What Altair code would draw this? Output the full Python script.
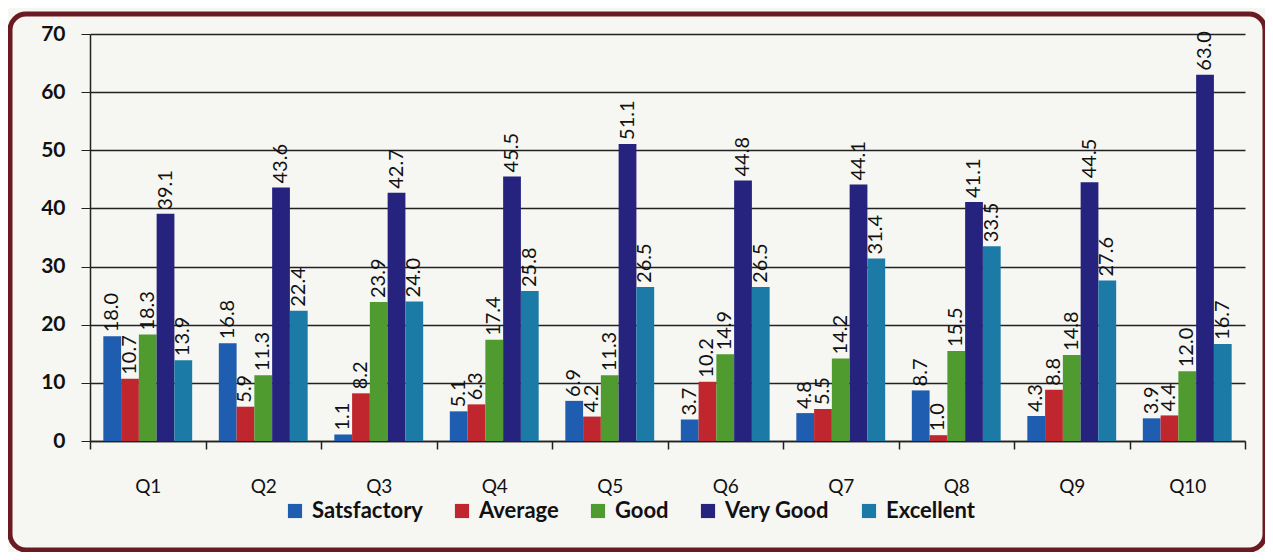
import altair as alt
import pandas as pd

questions = ["Q1", "Q2", "Q3", "Q4", "Q5", "Q6", "Q7", "Q8", "Q9", "Q10"]
series = ["Satsfactory", "Average", "Good", "Very Good", "Excellent"]
satisfactory = [18.0, 16.8, 1.1, 5.1, 6.9, 3.7, 4.8, 8.7, 4.3, 3.9]
average = [10.7, 5.9, 8.2, 6.3, 4.2, 10.2, 5.5, 1.0, 8.8, 4.4]
good = [18.3, 11.3, 23.9, 17.4, 11.3, 14.9, 14.2, 15.5, 14.8, 12.0]
very_good = [39.1, 43.6, 42.7, 45.5, 51.1, 44.8, 44.1, 41.1, 44.5, 63.0]
excellent = [13.9, 22.4, 24.0, 25.8, 26.5, 26.5, 31.4, 33.5, 27.6, 16.7]
colors = ["#1f5db0", "#c0262e", "#4f9b2f", "#25237e", "#1b7ba6"]

rows = []
for s, vals in zip(series, [satisfactory, average, good, very_good, excellent]):
    for q, v in zip(questions, vals):
        rows.append({"Question": q, "Rating": s, "Value": v, "Label": f"{v:.1f}"})
df = pd.DataFrame(rows)

W, H = 1155, 407
FONT = "Lato"

x = alt.X("Question:N", sort=questions,
          scale=alt.Scale(paddingInner=0, paddingOuter=0),
          axis=alt.Axis(title=None, tickBand="extent", grid=False, labelAngle=0,
                        labelFont=FONT, labelFontSize=19, labelColor="#111",
                        labelPadding=28, tickSize=8, tickColor="#222",
                        domainColor="#222", domainWidth=1.5, tickWidth=1.5))
xo = alt.XOffset("Rating:N", sort=series,
                 scale=alt.Scale(paddingInner=0, paddingOuter=0.75))
y = alt.Y("Value:Q", scale=alt.Scale(domain=[0, 70]),
          axis=alt.Axis(title=None, values=list(range(0, 71, 10)),
                        labelFont=FONT, labelFontSize=21, labelFontWeight="bold",
                        labelColor="#111", labelPadding=16, tickSize=9,
                        tickColor="#222", domainColor="#222", domainWidth=1.5,
                        gridColor="#222", gridWidth=1.4))

bars = alt.Chart(df).mark_bar().encode(
    x=x, xOffset=xo, y=y,
    color=alt.Color("Rating:N", sort=series,
                    scale=alt.Scale(domain=series, range=colors),
                    legend=alt.Legend(title=None, orient="none", direction="horizontal",
                                      legendX=194, legendY=466, symbolType="square",
                                      symbolSize=200, symbolStrokeWidth=0,
                                      labelFont=FONT, labelFontSize=22,
                                      labelFontWeight="bold", labelColor="#111",
                                      columnPadding=28, labelOffset=6)),
)

labels = alt.Chart(df).mark_text(angle=270, align="left", baseline="middle",
                                 dx=4, font=FONT, fontSize=20, color="#111").encode(
    x=alt.X("Question:N", sort=questions), xOffset=alt.XOffset("Rating:N", sort=series),
    y="Value:Q", text="Label:N",
)

frame = alt.Chart(pd.DataFrame({"a": [0]})).mark_rect(
    fill=None, stroke="#6b1a22", strokeWidth=5, cornerRadius=16, clip=False
).encode(x=alt.value(-80), x2=alt.value(1175), y=alt.value(-20), y2=alt.value(516))

chart = alt.layer(bars, labels, frame).properties(
    width=W, height=H,
    autosize=alt.AutoSizeParams(type="none"),
    padding={"left": 82, "top": 26, "right": 20, "bottom": 111},
    background="#f6f6f3",
).configure_view(stroke=None)

chart.save("out.html", embed_options={"renderer": "svg", "actions": False})
